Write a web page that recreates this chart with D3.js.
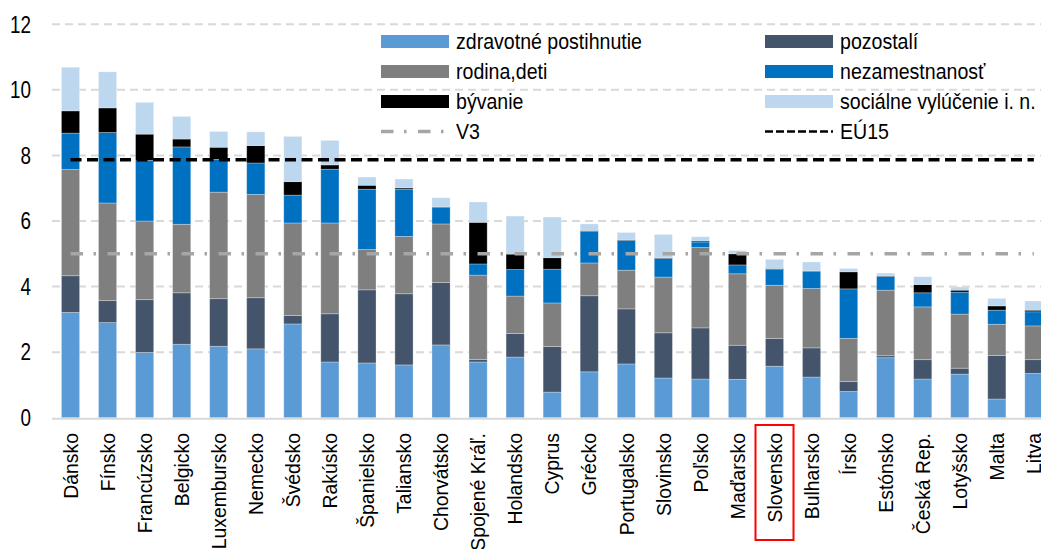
<!DOCTYPE html>
<html>
<head>
<meta charset="utf-8">
<script src="https://cdn.jsdelivr.net/npm/d3@7"></script>
<style>
  body { margin: 0; background: #fff; }
  text { font-family: "Liberation Sans", Arial, sans-serif; fill: #000; }
</style>
</head>
<body>
<svg id="chart"></svg>
<script>
const countries = ["Dánsko", "Fínsko", "Francúzsko", "Belgicko", "Luxembursko", "Nemecko", "Švédsko",
  "Rakúsko", "Španielsko", "Taliansko", "Chorvátsko", "Spojené Kráľ.", "Holandsko", "Cyprus", "Grécko",
  "Portugalsko", "Slovinsko", "Poľsko", "Maďarsko", "Slovensko", "Bulharsko", "Írsko", "Estónsko",
  "Česká Rep.", "Lotyšsko", "Malta", "Litva"];

const zdravotne = [3.21, 2.90, 1.99, 2.24, 2.18, 2.10, 2.86, 1.70, 1.67, 1.61, 2.22, 1.70, 1.85, 0.78, 1.40,
  1.64, 1.21, 1.18, 1.17, 1.57, 1.24, 0.80, 1.83, 1.18, 1.33, 0.57, 1.35];
const pozostali = [1.12, 0.67, 1.61, 1.57, 1.45, 1.56, 0.26, 1.47, 2.23, 2.17, 1.90, 0.08, 0.72, 1.39, 2.32,
  1.68, 1.38, 1.56, 1.04, 0.85, 0.89, 0.30, 0.06, 0.59, 0.18, 1.33, 0.42];
const rodina = [3.24, 2.98, 2.40, 2.09, 3.25, 3.15, 2.82, 2.77, 1.23, 1.75, 1.79, 2.57, 1.14, 1.33, 1.00,
  1.18, 1.70, 2.45, 2.18, 1.62, 1.81, 1.32, 2.00, 1.61, 1.65, 0.95, 1.03];
const nezamestnanost = [1.11, 2.15, 1.85, 2.36, 1.00, 0.96, 0.85, 1.64, 1.84, 1.44, 0.50, 0.34, 0.81, 1.03, 0.97,
  0.91, 0.57, 0.17, 0.27, 0.48, 0.53, 1.51, 0.42, 0.43, 0.67, 0.43, 0.43];
const byvanie = [0.68, 0.75, 0.80, 0.24, 0.37, 0.53, 0.41, 0.13, 0.12, 0.04, 0.02, 1.27, 0.47, 0.35, 0.02,
  0.02, 0.02, 0.03, 0.34, 0.03, 0.01, 0.52, 0.02, 0.25, 0.06, 0.13, 0.05];
const vylucenie = [1.33, 1.10, 0.97, 0.69, 0.48, 0.42, 1.38, 0.75, 0.25, 0.27, 0.28, 0.62, 1.16, 1.24, 0.20,
  0.22, 0.71, 0.13, 0.10, 0.28, 0.27, 0.10, 0.08, 0.24, 0.10, 0.23, 0.28];

const v3 = 5.0;
const eu15 = 7.87;
const yTicks = [0, 2, 4, 6, 8, 10, 12];
const highlighted = "Slovensko";

const series = [
  { key: "zdravotne", name: "zdravotné postihnutie", values: zdravotne, color: "#5b9bd5" },
  { key: "pozostali", name: "pozostalí", values: pozostali, color: "#44546a" },
  { key: "rodina", name: "rodina,deti", values: rodina, color: "#7f7f7f" },
  { key: "nezamestnanost", name: "nezamestnanosť", values: nezamestnanost, color: "#0070c0" },
  { key: "byvanie", name: "bývanie", values: byvanie, color: "#000000" },
  { key: "vylucenie", name: "sociálne vylúčenie i. n.", values: vylucenie, color: "#bdd7ee" },
];

const width = 1041;
const height = 549;

const svg = d3.select("#chart").attr("width", width).attr("height", height);

const x = d3
  .scaleBand()
  .domain(countries)
  .range([52, 1052.4])
  .paddingInner(0.51)
  .paddingOuter(0.255);

const y = d3.scaleLinear().domain([0, 12]).range([417.7, 24.3]);

// rows for the stack
let rows = countries.map((c, i) => {
  let r = { country: c };
  series.forEach((s) => (r[s.key] = s.values[i]));
  return r;
});
let stacked = d3.stack().keys(series.map((s) => s.key))(rows);

// gridlines
svg
  .append("g")
  .selectAll("line")
  .data(yTicks.filter((t) => t > 0))
  .join("line")
  .attr("x1", 52)
  .attr("x2", width)
  .attr("y1", (d) => y(d))
  .attr("y2", (d) => y(d))
  .attr("stroke", "#d9d9d9")
  .attr("stroke-width", 2)
  .attr("stroke-dasharray", "8,5");

// y tick labels
svg
  .append("g")
  .selectAll("text")
  .data(yTicks)
  .join("text")
  .attr("transform", (d) => `translate(31,${y(d)}) scale(0.82,1)`)
  .attr("text-anchor", "end")
  .attr("dy", "0.36em")
  .attr("font-size", 23)
  .text((d) => d);

// bars
svg
  .append("g")
  .selectAll("g")
  .data(stacked)
  .join("g")
  .attr("fill", (d, i) => series[i].color)
  .selectAll("rect")
  .data((d) => d)
  .join("rect")
  .attr("x", (d) => x(d.data.country))
  .attr("width", x.bandwidth())
  .attr("y", (d) => y(d[1]))
  .attr("height", (d) => y(d[0]) - y(d[1]))
  .attr("stroke", "#ffffff")
  .attr("stroke-opacity", 0.35)
  .attr("stroke-width", 0.8);

// x axis line
svg
  .append("line")
  .attr("x1", 52)
  .attr("x2", width)
  .attr("y1", y(0) + 1)
  .attr("y2", y(0) + 1)
  .attr("stroke", "#d9d9d9")
  .attr("stroke-width", 2);

// reference lines
const lineStart = x(countries[0]) + x.bandwidth() / 2;
const lineEnd = x(countries[countries.length - 1]) + x.bandwidth() / 2;

svg
  .append("line")
  .attr("x1", lineStart)
  .attr("x2", lineEnd)
  .attr("y1", y(v3))
  .attr("y2", y(v3))
  .attr("stroke", "#a6a6a6")
  .attr("stroke-width", 3.5)
  .attr("stroke-dasharray", "12.5,10.5,2.5,11.5");

svg
  .append("line")
  .attr("x1", lineStart)
  .attr("x2", lineEnd)
  .attr("y1", y(eu15))
  .attr("y2", y(eu15))
  .attr("stroke", "#000")
  .attr("stroke-width", 3.5)
  .attr("stroke-dasharray", "11,5.5");

// category labels
svg
  .append("g")
  .selectAll("text")
  .data(countries)
  .join("text")
  .attr("transform", (d) => `translate(${x(d) + x.bandwidth() / 2},433) rotate(-90) scale(0.97,1)`)
  .attr("text-anchor", "end")
  .attr("dy", "0.36em")
  .attr("font-size", 20)
  .text((d) => d);

// highlight box
svg
  .append("rect")
  .attr("x", x(highlighted) + x.bandwidth() / 2 - 19)
  .attr("y", 425)
  .attr("width", 38)
  .attr("height", 115)
  .attr("fill", "none")
  .attr("stroke", "#ff0000")
  .attr("stroke-width", 2);

// legend
let legendItems = [
  { name: series[0].name, color: series[0].color, type: "rect", col: 0, row: 0 },
  { name: series[2].name, color: series[2].color, type: "rect", col: 0, row: 1 },
  { name: series[4].name, color: series[4].color, type: "rect", col: 0, row: 2 },
  { name: "V3", color: "#a6a6a6", type: "v3", col: 0, row: 3 },
  { name: series[1].name, color: series[1].color, type: "rect", col: 1, row: 0 },
  { name: series[3].name, color: series[3].color, type: "rect", col: 1, row: 1 },
  { name: series[5].name, color: series[5].color, type: "rect", col: 1, row: 2 },
  { name: "EÚ15", color: "#000", type: "eu", col: 1, row: 3 },
];
const colX = [381, 765];

let legend = svg
  .append("g")
  .selectAll("g")
  .data(legendItems)
  .join("g")
  .attr("transform", (d) => `translate(${colX[d.col]},${41.5 + d.row * 30})`);

legend
  .filter((d) => d.type === "rect")
  .append("rect")
  .attr("x", 0)
  .attr("y", -6.5)
  .attr("width", 68)
  .attr("height", 13)
  .attr("fill", (d) => d.color);

legend
  .filter((d) => d.type === "v3")
  .append("line")
  .attr("x1", 0)
  .attr("x2", 66)
  .attr("stroke", "#a6a6a6")
  .attr("stroke-width", 3.5)
  .attr("stroke-dasharray", "12.5,10.5,2.5,11.5");

legend
  .filter((d) => d.type === "eu")
  .append("line")
  .attr("x1", 0)
  .attr("x2", 68)
  .attr("stroke", "#000")
  .attr("stroke-width", 2.5)
  .attr("stroke-dasharray", "8,3");

legend
  .append("text")
  .attr("transform", "translate(75,0) scale(0.91,1)")
  .attr("dy", "0.36em")
  .attr("font-size", 21.5)
  .text((d) => d.name);
</script>
</body>
</html>
